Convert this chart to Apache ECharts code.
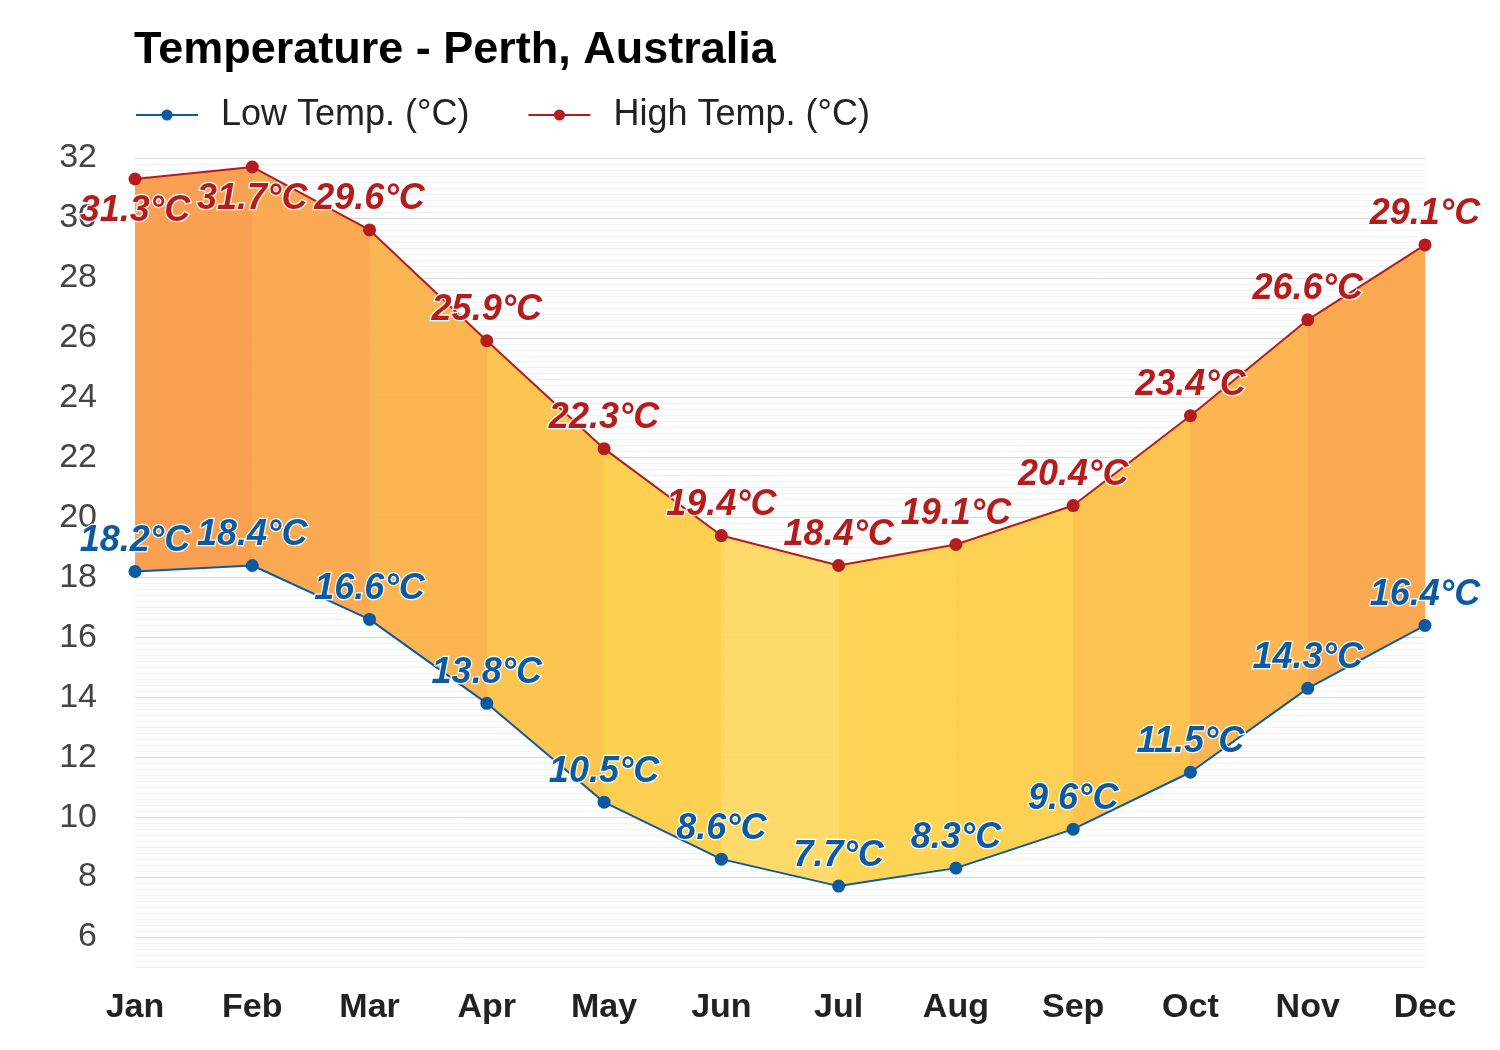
<!DOCTYPE html>
<html>
<head>
<meta charset="utf-8">
<script src="https://cdn.jsdelivr.net/npm/echarts@6/dist/echarts.min.js"></script>
<style>
html,body{margin:0;padding:0;background:#fff;}
#chart{width:1500px;height:1050px;}
</style>
</head>
<body>
<div id="chart"></div>
<script>
const months = ['Jan','Feb','Mar','Apr','May','Jun','Jul','Aug','Sep','Oct','Nov','Dec'];
const lowTemps = [18.2, 18.4, 16.6, 13.8, 10.5, 8.6, 7.7, 8.3, 9.6, 11.5, 14.3, 16.4];
const highTemps = [31.3, 31.7, 29.6, 25.9, 22.3, 19.4, 18.4, 19.1, 20.4, 23.4, 26.6, 29.1];
const yMin = 5, yMax = 32;

const segColors = ['#f99b49','#fba549','#fcb14a','#fcc246','#fdcd47','#fdd862','#fdd24b','#fccf4a','#fcc047','#fbb249','#fba548'];
const FONT = '"Liberation Sans", Arial, Helvetica, sans-serif';

const stops = [];
segColors.forEach((c, i) => {
  stops.push({offset: i / segColors.length, color: c});
  stops.push({offset: (i + 1) / segColors.length, color: c});
});

const bandData = highTemps.map((h, i) => +(h - lowTemps[i]).toFixed(1));

const chart = echarts.init(document.getElementById('chart'), null, {renderer: 'canvas'});
chart.setOption({
  animation: false,
  backgroundColor: '#ffffff',
  title: {
    text: 'Temperature - Perth, Australia',
    left: 129, top: 23,
    textStyle: {fontFamily: FONT, fontSize: 45, fontWeight: 'bold', color: '#000'}
  },
  legend: {
    left: 130, top: 92,
    itemWidth: 62, itemHeight: 14, itemGap: 58,
    data: ['Low Temp. (°C)', 'High Temp. (°C)'],
    textStyle: {fontFamily: FONT, fontSize: 36, color: '#222', padding: [0, 0, 0, 18]}
  },
  grid: {left: 135, right: 75, top: 158, bottom: 83, containLabel: false},
  xAxis: {
    type: 'category', data: months, boundaryGap: false,
    axisLine: {show: false}, axisTick: {show: false},
    axisLabel: {fontFamily: FONT, fontSize: 34, fontWeight: 'bold', color: '#222', margin: 24},
    splitLine: {show: false}
  },
  yAxis: {
    type: 'value', min: yMin, max: yMax, interval: 1,
    axisLine: {show: false}, axisTick: {show: false},
    axisLabel: {
      fontFamily: FONT, fontSize: 34, color: '#444', margin: 38,
      formatter: v => (v % 2 === 0 ? String(v) : '')
    },
    splitLine: {show: true, lineStyle: {color: ['#efefef', '#d9d9d9'], width: 1}},
    minorTick: {show: false, splitNumber: 5},
    minorSplitLine: {show: true, lineStyle: {color: '#f1f1f4', width: 1}}
  },
  series: [
    {
      name: 'base', type: 'line', stack: 'band', data: lowTemps,
      symbol: 'none', lineStyle: {opacity: 0}, silent: true, z: 1
    },
    {
      name: 'band', type: 'line', stack: 'band', data: bandData,
      symbol: 'none', lineStyle: {opacity: 0}, silent: true, z: 1,
      areaStyle: {color: new echarts.graphic.LinearGradient(0, 0, 1, 0, stops), opacity: 0.95}
    },
    {
      name: 'Low Temp. (°C)', type: 'line', data: lowTemps, z: 5,
      symbol: 'circle', symbolSize: 13,
      itemStyle: {color: '#0b5aa2'},
      lineStyle: {color: '#0b5aa2', width: 2},
      label: {
        show: true, position: 'top', distance: 6,
        formatter: p => p.value + '°C',
        fontFamily: FONT, fontSize: 36, fontWeight: 'bold', fontStyle: 'italic',
        color: '#0b5aa2', textBorderColor: '#fff', textBorderWidth: 2.5
      }
    },
    {
      name: 'High Temp. (°C)', type: 'line', z: 5,
      data: highTemps.map((v, i) => ({
        value: v,
        label: i < 2 ? {position: 'bottom', distance: 8} : {position: 'top', distance: 6}
      })),
      symbol: 'circle', symbolSize: 13,
      itemStyle: {color: '#b71c1c'},
      lineStyle: {color: '#b71c1c', width: 2},
      label: {
        show: true,
        formatter: p => p.value + '°C',
        fontFamily: FONT, fontSize: 36, fontWeight: 'bold', fontStyle: 'italic',
        color: '#b71c1c', textBorderColor: '#fff', textBorderWidth: 2.5
      }
    }
  ]
});
</script>
</body>
</html>
